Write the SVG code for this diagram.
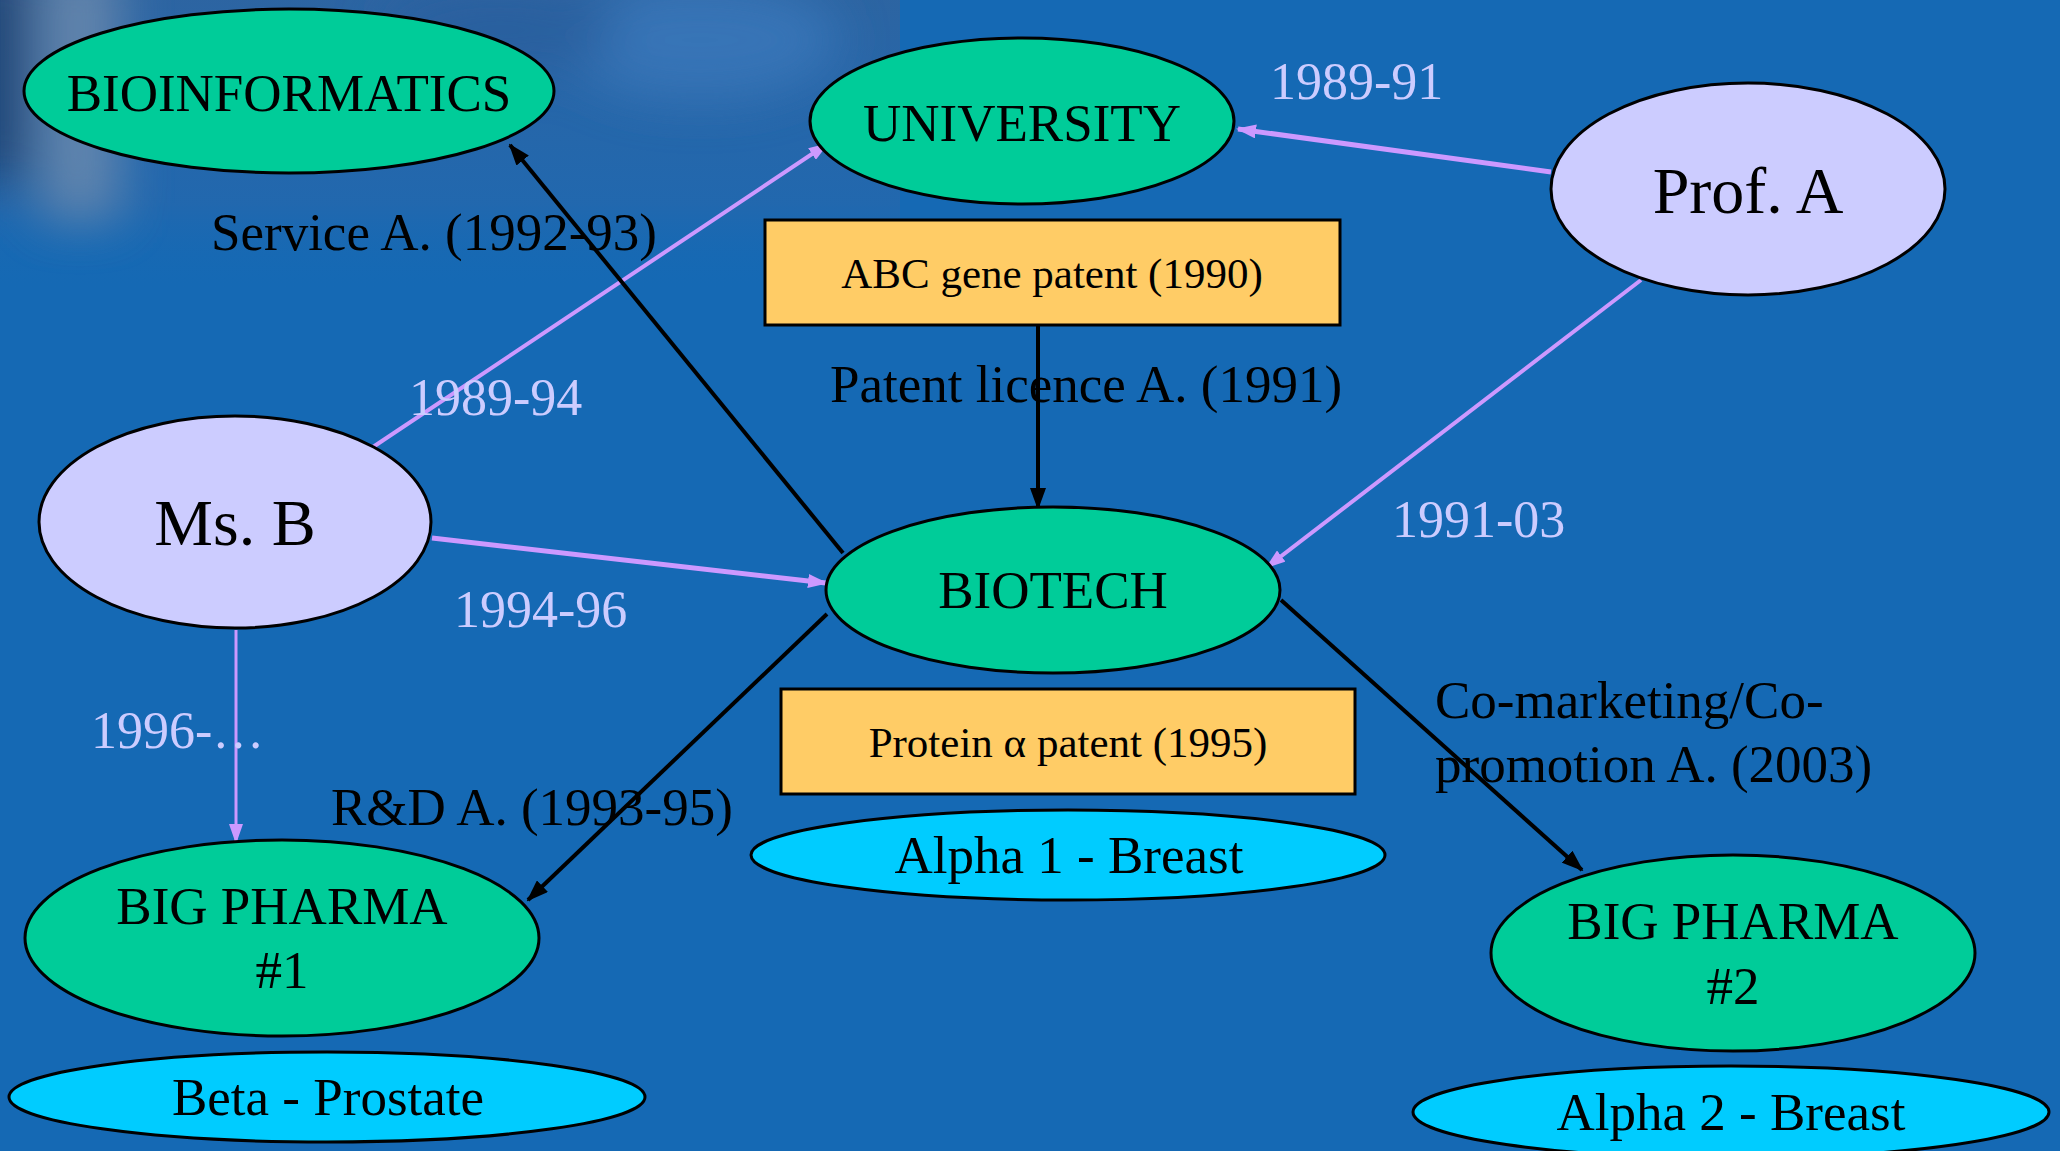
<svg xmlns="http://www.w3.org/2000/svg" width="2060" height="1151" viewBox="0 0 2060 1151">
<defs>
<style>
.org{fill:#00CC99;stroke:#000;stroke-width:3}
.per{fill:#CCCCFF;stroke:#000;stroke-width:3}
.prod{fill:#00CCFF;stroke:#000;stroke-width:3}
.pat{fill:#FFCC66;stroke:#000;stroke-width:3}
text{font-family:"Liberation Serif","Times New Roman",serif;fill:#000}
.t{font-size:53px;text-anchor:middle}
.big{font-size:66px;text-anchor:middle}
.box{font-size:43px;text-anchor:middle}
.lbl{font-size:53px}
.yr{font-size:52px;fill:#CCCCFF}
.lil{stroke:#CC99FF;fill:none}
.blk{stroke:#000;fill:none;stroke-width:4}
</style>
<marker id="ab" markerUnits="userSpaceOnUse" viewBox="0 0 22 16" refX="20" refY="8" markerWidth="22" markerHeight="16" orient="auto"><path d="M0,0 L22,8 L0,16 z" fill="#000"/></marker>
<marker id="al" markerUnits="userSpaceOnUse" viewBox="0 0 20 14" refX="18" refY="7" markerWidth="20" markerHeight="14" orient="auto"><path d="M0,0 L20,7 L0,14 z" fill="#CC99FF"/></marker>
<linearGradient id="bgtop" x1="0" y1="0" x2="0" y2="1">
<stop offset="0" stop-color="#2f64a0" stop-opacity="0.9"/>
<stop offset="0.7" stop-color="#2a67aa" stop-opacity="0.6"/>
<stop offset="1" stop-color="#1569B4" stop-opacity="0"/>
</linearGradient>
<filter id="blur" x="-50%" y="-50%" width="200%" height="200%"><feGaussianBlur stdDeviation="25"/></filter>
</defs>
<rect width="2060" height="1151" fill="#1569B4"/>
<rect x="0" y="0" width="900" height="290" fill="url(#bgtop)"/>
<g filter="url(#blur)" opacity="0.8">
<rect x="-40" y="-40" width="70" height="220" fill="#1e3c6a"/>
<rect x="40" y="-40" width="80" height="260" fill="#6f8cae"/>
<ellipse cx="700" cy="40" rx="140" ry="60" fill="#3a78bb"/>
<ellipse cx="500" cy="30" rx="120" ry="40" fill="#2a5f9e"/>
</g>

<g id="connectors">
<line class="lil" stroke-width="5" x1="1551" y1="172" x2="1238" y2="129" marker-end="url(#al)"/>
<line class="lil" stroke-width="4" x1="1641" y1="280" x2="1267" y2="567" marker-end="url(#al)"/>
<line class="lil" stroke-width="4" x1="373" y1="447" x2="827" y2="144" marker-end="url(#al)"/>
<line class="lil" stroke-width="5" x1="432" y1="538" x2="826" y2="583" marker-end="url(#al)"/>
<line class="lil" stroke-width="3" x1="236" y1="630" x2="236" y2="842" marker-end="url(#al)"/>
<line class="blk" x1="843" y1="553" x2="510" y2="145" marker-end="url(#ab)"/>
<line class="blk" stroke-width="3" x1="1038" y1="326" x2="1038" y2="508" marker-end="url(#ab)"/>
<line class="blk" x1="827" y1="614" x2="528" y2="900" marker-end="url(#ab)"/>
<line class="blk" x1="1281" y1="600" x2="1582" y2="870" marker-end="url(#ab)"/>
</g>

<g id="bioinformatics"><ellipse class="org" cx="289" cy="91" rx="265" ry="82"/><text class="t" x="289" y="111">BIOINFORMATICS</text></g>
<g id="university"><ellipse class="org" cx="1022" cy="121" rx="212" ry="83"/><text class="t" x="1022" y="141">UNIVERSITY</text></g>
<g id="prof-a"><ellipse class="per" cx="1748" cy="189" rx="197" ry="106"/><text class="big" x="1748" y="213">Prof. A</text></g>
<g id="abc-patent"><rect class="pat" x="765" y="220" width="575" height="105"/><text class="box" x="1052" y="288">ABC gene patent (1990)</text></g>
<g id="ms-b"><ellipse class="per" cx="235" cy="522" rx="196" ry="106"/><text class="big" x="235" y="545">Ms. B</text></g>
<g id="biotech"><ellipse class="org" cx="1053" cy="590" rx="227" ry="83"/><text class="t" x="1053" y="608">BIOTECH</text></g>
<g id="protein-patent"><rect class="pat" x="781" y="689" width="574" height="105"/><text class="box" x="1068" y="757">Protein α patent (1995)</text></g>
<g id="alpha1"><ellipse class="prod" cx="1068" cy="855" rx="317" ry="45"/><text class="t" x="1069" y="873">Alpha 1 - Breast</text></g>
<g id="bigpharma1"><ellipse class="org" cx="282" cy="938" rx="257" ry="98"/><text class="t" x="282" y="924">BIG PHARMA</text><text class="t" x="282" y="988">#1</text></g>
<g id="beta"><ellipse class="prod" cx="327" cy="1097" rx="318" ry="45"/><text class="t" x="328" y="1115">Beta - Prostate</text></g>
<g id="bigpharma2"><ellipse class="org" cx="1733" cy="953" rx="242" ry="98"/><text class="t" x="1733" y="939">BIG PHARMA</text><text class="t" x="1733" y="1004">#2</text></g>
<g id="alpha2"><ellipse class="prod" cx="1731" cy="1112" rx="318" ry="46"/><text class="t" x="1731" y="1130">Alpha 2 - Breast</text></g>

<g id="labels">
<text class="yr" x="1270" y="99">1989-91</text>
<text class="lbl" x="211" y="250">Service A. (1992-93)</text>
<text class="lbl" x="830" y="402">Patent licence A. (1991)</text>
<text class="yr" x="409" y="415">1989-94</text>
<text class="yr" x="1392" y="537">1991-03</text>
<text class="yr" x="454" y="627">1994-96</text>
<text class="yr" x="91" y="748">1996-…</text>
<text class="lbl" x="331" y="825">R&amp;D A. (1993-95)</text>
<text class="lbl" x="1435" y="718">Co-marketing/Co-</text>
<text class="lbl" x="1435" y="782">promotion A. (2003)</text>
</g>
</svg>
